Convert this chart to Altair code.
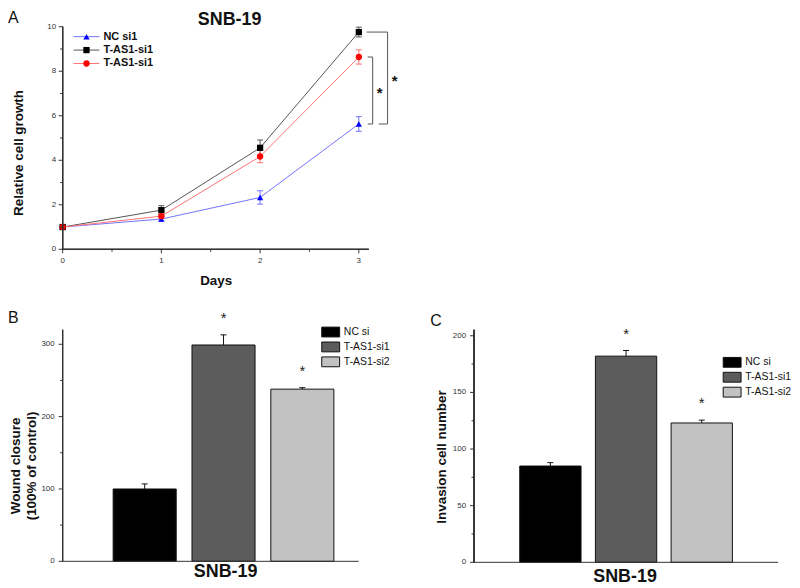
import altair as alt
import pandas as pd

FONT = "Liberation Sans"
AX = "#333333"

# ---------------- Panel A data ----------------
days = [0, 1, 2, 3]
series_ids = [0, 1, 2]
series_labels = ["NC si1", "T-AS1-si1", "T-AS1-si1"]
growth_nc = [1.0, 1.36, 2.33, 5.63]
growth_nc_err = [0.05, 0.10, 0.30, 0.33]
growth_si1_black = [1.0, 1.76, 4.56, 9.76]
growth_si1_black_err = [0.04, 0.20, 0.35, 0.22]
growth_si1_red = [1.0, 1.49, 4.17, 8.64]
growth_si1_red_err = [0.04, 0.10, 0.28, 0.32]

marker_colors = ["#0000ff", "#000000", "#ff0000"]
line_colors = ["#7373ff", "#555555", "#ff7373"]
marker_shapes = ["triangle-up", "square", "circle"]

a_x_ticks = [0, 1, 2, 3]
a_x_minor = [0.5, 1.5, 2.5]
a_y_ticks = [0, 2, 4, 6, 8, 10]
a_y_minor = [1, 3, 5, 7, 9]

# ---------------- Panels B / C data ----------------
groups = ["NC si", "T-AS1-si1", "T-AS1-si2"]
bar_colors = ["#000000", "#5c5c5c", "#c2c2c2"]
significance = ["", "*", "*"]
wound = [100, 299, 238]
wound_err = [7, 14, 2]
b_y_ticks = [0, 100, 200, 300]
b_y_minor = [50, 150, 250]
invasion = [85, 182, 123]
invasion_err = [3, 5, 2.5]
c_y_ticks = [0, 50, 100, 150, 200]
c_y_minor = [25, 75, 125, 175]


def label(txt, x, y, size=16, weight="normal", align="left", baseline="alphabetic", angle=0,
          line_height=None):
    kw = dict(font=FONT, fontSize=size, fontWeight=weight, align=align, baseline=baseline,
              color="#111111", angle=angle)
    if line_height is not None:
        kw["lineBreak"] = "\n"
        kw["lineHeight"] = line_height
    return alt.Chart(pd.DataFrame({"t": [txt]})).mark_text(**kw).encode(
        x=alt.value(x), y=alt.value(y), text="t:N")


def y_axis(scale, ticks, minor, height, label_dx):
    """Left axis drawn from the tick lists through the panel's own y scale."""
    dt = pd.DataFrame({"v": ticks, "lab": [str(t) for t in ticks]})
    dm = pd.DataFrame({"v": minor})
    y = alt.Y("v:Q", scale=scale, axis=None)
    return [
        alt.Chart(dt).mark_rule(color=AX, strokeWidth=1).encode(
            x=alt.value(0), y=alt.value(0), y2=alt.value(height)),
        alt.Chart(dt).mark_rule(color=AX).encode(x=alt.value(-4), x2=alt.value(0), y=y),
        alt.Chart(dm).mark_rule(color=AX).encode(x=alt.value(-2.5), x2=alt.value(0), y=y),
        alt.Chart(dt).mark_text(font=FONT, fontSize=8, align="right", baseline="middle",
                                color="#333333").encode(x=alt.value(label_dx), y=y, text="lab:N"),
    ]


# ================= Panel A =================
A_W, A_H = 308, 224
rows = []
for sid, vals, errs in zip(series_ids,
                           [growth_nc, growth_si1_black, growth_si1_red],
                           [growth_nc_err, growth_si1_black_err, growth_si1_red_err]):
    for d, v, e in zip(days, vals, errs):
        rows.append({"sid": sid, "day": d, "value": v, "lo": v - e, "hi": v + e})
df_a = pd.DataFrame(rows)

stroke_enc = alt.Stroke("sid:N", scale=alt.Scale(domain=series_ids, range=line_colors), legend=None)
fill_enc = alt.Fill("sid:N", scale=alt.Scale(domain=series_ids, range=marker_colors), legend=None)
shape_enc = alt.Shape("sid:N", scale=alt.Scale(domain=series_ids, range=marker_shapes), legend=None)

xa_scale = alt.Scale(domain=[0, 3.1], nice=False, zero=False)
ya_scale = alt.Scale(domain=[0, 10], nice=False)
xa = alt.X("day:Q", scale=xa_scale, axis=None)


def ya(field):
    return alt.Y(field, scale=ya_scale, axis=None)


base_a = alt.Chart(df_a)
lines = base_a.mark_line(strokeWidth=1).encode(x=xa, y=ya("value:Q"), stroke=stroke_enc, detail="sid:N")
err_rules = base_a.mark_rule(strokeWidth=1).encode(x=xa, y=ya("lo:Q"), y2="hi:Q", stroke=stroke_enc)
caps_lo = base_a.mark_point(shape="stroke", size=36, strokeWidth=1, opacity=1).encode(
    x=xa, y=ya("lo:Q"), stroke=stroke_enc)
caps_hi = base_a.mark_point(shape="stroke", size=36, strokeWidth=1, opacity=1).encode(
    x=xa, y=ya("hi:Q"), stroke=stroke_enc)
points = base_a.mark_point(filled=True, size=40, opacity=1, strokeWidth=0).encode(
    x=xa, y=ya("value:Q"), fill=fill_enc, shape=shape_enc)

# x axis of panel A
dxt = pd.DataFrame({"v": a_x_ticks, "lab": [str(t) for t in a_x_ticks]})
dxm = pd.DataFrame({"v": a_x_minor})
xv = alt.X("v:Q", scale=xa_scale, axis=None)
x_axis_a = [
    alt.Chart(dxt).mark_rule(color=AX).encode(x=alt.value(0), x2=alt.value(A_W), y=alt.value(A_H)),
    alt.Chart(dxt).mark_rule(color=AX).encode(x=xv, y=alt.value(A_H), y2=alt.value(A_H + 4)),
    alt.Chart(dxm).mark_rule(color=AX).encode(x=xv, y=alt.value(A_H), y2=alt.value(A_H + 2.5)),
    alt.Chart(dxt).mark_text(font=FONT, fontSize=8, align="center", baseline="middle",
                             color="#333333").encode(x=xv, y=alt.value(A_H + 12), text="lab:N"),
]


def bracket(top, bot, x_top0, x_bot0, x_v, x_star):
    d = alt.Chart(pd.DataFrame({"top": [top], "bot": [bot], "star": ["*"]})).transform_calculate(
        mid="(datum.top + datum.bot) / 2")
    c = "#555555"
    return [
        d.mark_rule(color=c).encode(x=alt.value(x_top0), x2=alt.value(x_v), y=ya("top:Q")),
        d.mark_rule(color=c).encode(x=alt.value(x_v), y=ya("top:Q"), y2="bot:Q"),
        d.mark_rule(color=c).encode(x=alt.value(x_bot0), x2=alt.value(x_v), y=ya("bot:Q")),
        d.mark_text(font=FONT, fontSize=15, fontWeight="bold", baseline="middle", align="center",
                    dy=3, color="#111").encode(x=alt.value(x_star), y=ya("mid:Q"), text="star:N"),
    ]


br1 = bracket(growth_si1_red[3], growth_nc[3], 307, 307, 312, 319)
br2 = bracket(growth_si1_black[3], growth_nc[3], 306, 318, 327, 334)

main_a = alt.layer(
    lines, err_rules, caps_lo, caps_hi, points,
    *y_axis(ya_scale, a_y_ticks, a_y_minor, A_H, -6.5),
    *x_axis_a, *br1, *br2,
    label("A", -55, -3.5),
    label("SNB-19", 168, -2, size=18, weight="bold", align="center"),
    label("Relative cell growth", -44, 127, size=13.5, weight="bold", align="center",
          baseline="middle", angle=270),
    label("Days", 154.5, A_H + 32, size=13.5, weight="bold", align="center", baseline="middle"),
)

df_leg = pd.DataFrame({"sid": series_ids, "label": series_labels})
leg_y = alt.Y("sid:N", scale=alt.Scale(domain=series_ids, range=[3.25, 43.75], padding=0), axis=None)
leg_base = alt.Chart(df_leg)
legend_a = alt.layer(
    leg_base.mark_rule(strokeWidth=1).encode(x=alt.value(11), x2=alt.value(37), y=leg_y, stroke=stroke_enc),
    leg_base.mark_point(filled=True, size=40, opacity=1, strokeWidth=0).encode(
        x=alt.value(24), y=leg_y, fill=fill_enc, shape=shape_enc),
    leg_base.mark_text(font=FONT, fontSize=11, fontWeight="bold", align="left", baseline="middle",
                       color="#111").encode(x=alt.value(41), y=leg_y, text="label:N"),
)

panel_a = alt.layer(main_a, legend_a).resolve_scale(y="independent").properties(width=A_W, height=A_H)


# ================= Panels B / C =================
def bar_panel(values, errors, y_domain, y_range, y_ticks, y_minor, y_title, ytx, yty,
              pad_in, pad_out, align, legx, legy, xtx, xty, letter, lx, ly, width, height):
    df = pd.DataFrame({"group": groups, "value": values, "err": errors, "sig": significance})
    base = alt.Chart(df).transform_calculate(hi="datum.value + datum.err")
    xs = alt.Scale(domain=groups, paddingInner=pad_in, paddingOuter=pad_out, align=align)
    x = alt.X("group:N", sort=groups, scale=xs, axis=None)
    if y_range is None:
        ysc = alt.Scale(domain=y_domain, nice=False)
    else:
        ysc = alt.Scale(domain=y_domain, nice=False, range=y_range)

    def y(field):
        return alt.Y(field, scale=ysc, axis=None)

    color = alt.Color("group:N", sort=groups, scale=alt.Scale(domain=groups, range=bar_colors),
                      legend=alt.Legend(orient="none", legendX=legx, legendY=legy, title=None,
                                        symbolType="M-2,-1.1H2V1.1H-2Z", symbolSize=81,
                                        symbolStrokeColor="#111", symbolStrokeWidth=1,
                                        symbolOpacity=1, labelFont=FONT, labelFontSize=10.5,
                                        labelColor="#111", labelOffset=8, rowPadding=0))
    bars = base.mark_bar(stroke="#111", strokeWidth=1, opacity=1).encode(
        x=x, y=y("value:Q"), color=color)
    err = base.mark_rule(color="#111").encode(x=x, y=y("value:Q"), y2="hi:Q")
    cap = base.mark_tick(orient="horizontal", size=6, thickness=1, color="#111", opacity=1).encode(
        x=x, y=y("hi:Q"))
    stars = base.mark_text(font=FONT, fontSize=15, baseline="middle", dy=-17, color="#222").encode(
        x=x, y=y("hi:Q"), text="sig:N")
    x_dom = alt.Chart(pd.DataFrame({"v": [0]})).mark_rule(color=AX).encode(
        x=alt.value(0), x2=alt.value(width), y=alt.value(height))
    lh = 16 if "\n" in y_title else None
    return alt.layer(
        bars, err, cap, stars, x_dom,
        *y_axis(ysc, y_ticks, y_minor, height, -8),
        label(letter, lx, ly),
        label(y_title, ytx, yty, size=13.5, weight="bold", align="center", baseline="middle",
              angle=270, line_height=lh),
        label("SNB-19", xtx, xty, size=18, weight="bold", align="center", baseline="middle"),
    ).properties(width=width, height=height)


panel_b = bar_panel(wound, wound_err, [0, 320], None, b_y_ticks, b_y_minor,
                    "Wound closure\n(100% of control)", -46.5, 137,
                    0.2, 0.478, 0.67, 264.5, -3, 164, 233 + 11, "B", -55, -7, 298, 233)
panel_c = bar_panel(invasion, invasion_err, [0, 200], [234, 6], c_y_ticks, c_y_minor,
                    "Invasion cell number", -32, 128,
                    0.19, 0.604, 0.5, 254.5, 27.5, 152, 234 + 14.7, "C", -44, -4, 306, 234)

bottom = alt.hconcat(panel_b, panel_c, spacing=116, bounds="flush").resolve_scale(
    color="independent").resolve_legend(color="independent")

chart = alt.vconcat(panel_a, bottom, spacing=81, bounds="flush").resolve_scale(
    color="independent").resolve_legend(color="independent").properties(
    padding=0
).configure_view(stroke=None)

chart.save("out.html", embed_options={"renderer": "svg", "actions": False})
